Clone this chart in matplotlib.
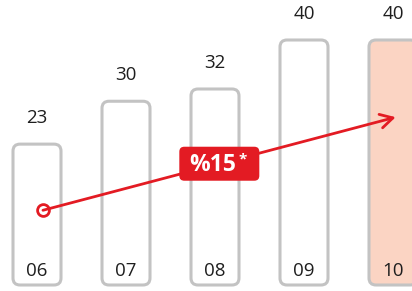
import matplotlib.pyplot as plt
from matplotlib.patches import FancyBboxPatch

# data
years = ["06", "07", "08", "09", "10"]
values = [23, 30, 32, 40, 40]
growth_label = "%15"
trend_start = (0.067, 12.2)
trend_end = (4.03, 27.4)

RED = "#E31B23"
GRAY = "#C3C3C3"
PEACH = "#FBD4C3"
TEXT = "#1E1E1E"

plt.rcParams["font.family"] = ["Open Sans", "DejaVu Sans"]

fig = plt.figure(figsize=(4.12, 2.91), dpi=100)
ax = fig.add_axes([0, 0, 1, 1])

# pixel scales: 89 px per category, 6.125 px per unit
px_x, px_y = 89.0, 6.125
ax.set_xlim(-37 / px_x, (412 - 37) / px_x)
ax.set_ylim(-6 / px_y, 285 / px_y)
ax.axis("off")

bar_w = 48 / px_x
r = 7 / px_x
for i, (yr, v) in enumerate(zip(years, values)):
    face = PEACH if i == len(years) - 1 else "white"
    box = FancyBboxPatch((i - bar_w / 2, 0), bar_w, v,
                         boxstyle=f"round,pad=0,rounding_size={r}",
                         mutation_aspect=px_x / px_y,
                         facecolor=face, edgecolor=GRAY, linewidth=2.2)
    ax.add_patch(box)
    ax.text(i, v + 26 / px_y, str(v), ha="center", va="center",
            fontsize=13.5, color=TEXT)
    ax.text(i, 14 / px_y, yr, ha="center", va="center",
            fontsize=13.5, color=TEXT)

# trend arrow
ax.annotate("", xy=trend_end, xytext=trend_start,
            arrowprops=dict(arrowstyle="->,head_length=0.9,head_width=0.5",
                            color=RED, lw=2, shrinkA=0, shrinkB=0))
ax.plot(*trend_start, marker="o", ms=8.5, mfc="white", mec=RED, mew=2)

# growth badge
mid_x = (trend_start[0] + trend_end[0]) / 2
mid_y = (trend_start[1] + trend_end[1]) / 2
bw, bh = 80 / px_x, 34 / px_y
badge = FancyBboxPatch((mid_x - bw / 2, mid_y - bh / 2), bw, bh,
                       boxstyle=f"round,pad=0,rounding_size={5 / px_x}",
                       mutation_aspect=px_x / px_y,
                       facecolor=RED, edgecolor="none", zorder=3)
ax.add_patch(badge)
ax.annotate(growth_label, (mid_x, mid_y), xytext=(-4.5, -1), textcoords="offset points",
            ha="center", va="center", fontsize=16.5, fontweight="bold",
            color="white", zorder=4)
ax.annotate("*", (mid_x, mid_y), xytext=(17, 3), textcoords="offset points",
            ha="center", va="center", fontsize=11, fontweight="bold",
            color="white", zorder=4)

fig.savefig("out.png", dpi=100)
